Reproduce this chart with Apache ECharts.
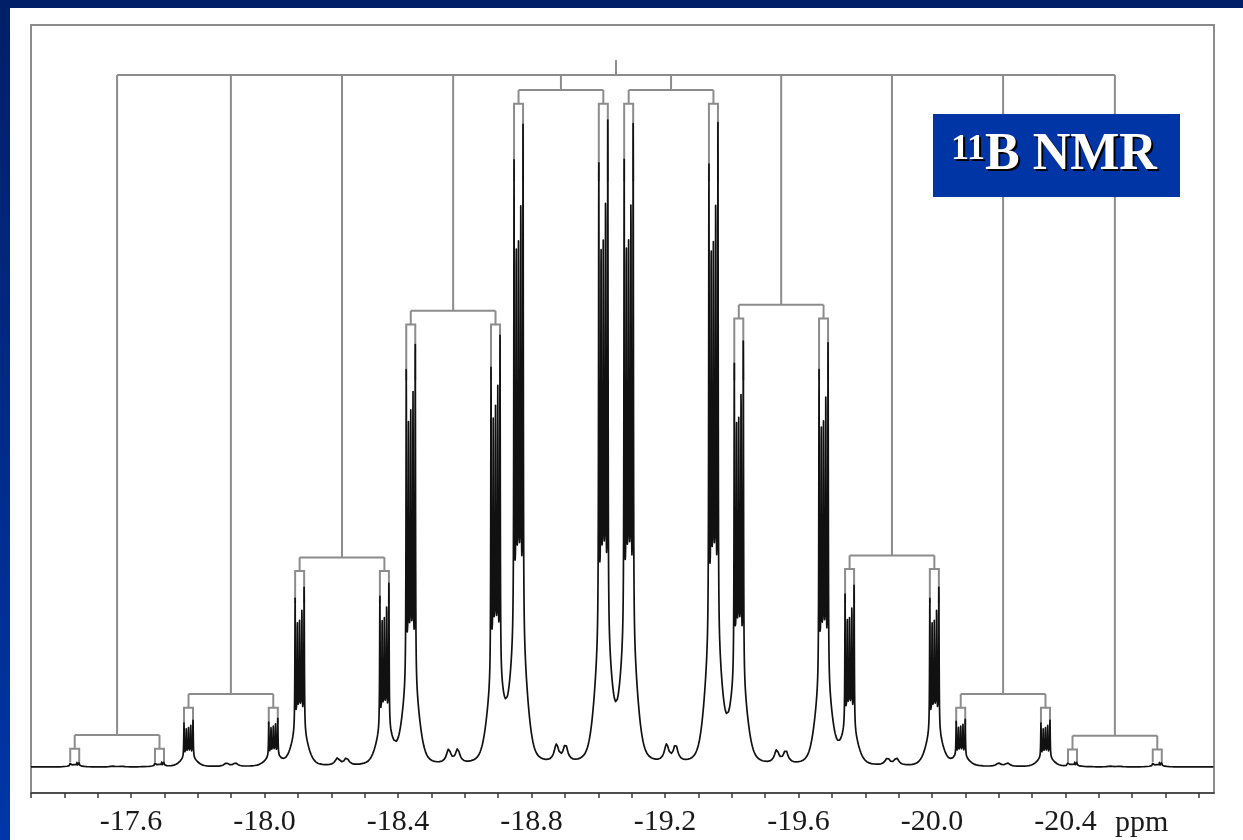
<!DOCTYPE html>
<html>
<head>
<meta charset="utf-8">
<title>11B NMR</title>
<script src="https://cdn.jsdelivr.net/npm/echarts@6.0.0/dist/echarts.min.js"></script>
<style>
  html, body { margin: 0; padding: 0; }
  body { width: 1243px; height: 840px; position: relative; overflow: hidden;
         background: linear-gradient(to bottom, #001f68, #0036a8); }
  #nmr { position: absolute; left: 10px; top: 8px; width: 1233px; height: 832px; background: #fff; }
</style>
</head>
<body>
<div id="nmr"></div>
<script>
// centre shift of each of the ten lines of the multiplet (ppm)
var groupShifts = [-17.558, -17.899, -18.232, -18.565, -18.888, -19.218, -19.548, -19.880, -20.213, -20.548];
// height of the tallest spike in each line (central lines = 100)
var groupHeights = [0.8, 7.3, 28, 66, 100, 100, 66, 28, 7.3, 0.8];
// each line is a doublet, halves at centre +/- doubletHalf (ppm)
var doubletHalf = 0.127;
// fine structure of each doublet half: offsets (ppm, left to right) and relative heights
var fineOffsets = [0.0135, 0.00675, 0, -0.00675, -0.0135];
var fineHeights = [0.72, 0.54, 0.55, 0.61, 0.78];
// small humps in the middle of each doublet
var bumpHeights = [0.1, 0.5, 1.1, 2.1, 2.6, 2.6, 2.0, 1.1, 0.5, 0.1];
var bumpHalf = 0.0135;

// splitting tree levels (same units as the peaks)
var treeTop = 106.3;
var treeStubTop = 108.6;
var treeCentre = -19.053;
var subLevels = [4.9, 11.2, 32.2, 70.1, 104.0, 104.0, 71.0, 32.5, 11.2, 4.8];
var boxHalf = 0.0135;
var boxDrop = 2.1;

// axis
var tickValues = [-17.3, -17.4, -17.5, -17.6, -17.7, -17.8, -17.9, -18.0, -18.1, -18.2, -18.3, -18.4,
  -18.5, -18.6, -18.7, -18.8, -18.9, -19.0, -19.1, -19.2, -19.3, -19.4, -19.5, -19.6, -19.7, -19.8,
  -19.9, -20.0, -20.1, -20.2, -20.3, -20.4, -20.5, -20.6, -20.7, -20.8];
var tickLabels = [-17.6, -18.0, -18.4, -18.8, -19.2, -19.6, -20.0, -20.4];

// line shape
var fineWidth = 0.0009;
var baseSigma = 0.0195, baseHeight = 0.18;
var tailWidth = 0.024, tailHeight = 0.07;
var bumpWidth = 0.008;

function intensity(d) {
  var y = 0;
  for (var g = 0; g < groupShifts.length; g++) {
    var c = groupShifts[g], h = groupHeights[g];
    if (Math.abs(d - c) > 0.6) continue;
    var halves = [c + doubletHalf, c - doubletHalf];
    for (var j = 0; j < 2; j++) {
      var dx = d - halves[j];
      y += h * baseHeight * Math.exp(-dx * dx / (2 * baseSigma * baseSigma));
      y += h * tailHeight / (1 + (dx / tailWidth) * (dx / tailWidth));
      for (var k = 0; k < fineOffsets.length; k++) {
        var e = (dx - fineOffsets[k]) / fineWidth;
        y += h * fineHeights[k] / (1 + e * e);
      }
    }
    for (var s = -1; s <= 1; s += 2) {
      var b = (d - c - s * bumpHalf) / bumpWidth;
      y += bumpHeights[g] / (1 + b * b);
    }
  }
  return y;
}

var spectrum = [];
for (var d = -17.3; d >= -20.845; d -= 0.0004) {
  spectrum.push([d, intensity(d)]);
}

// splitting tree
var tree = [];
tree.push({ coords: [[groupShifts[0], treeTop], [groupShifts[9], treeTop]] });
tree.push({ coords: [[treeCentre, treeTop], [treeCentre, treeStubTop]] });
groupShifts.forEach(function (c, g) {
  var lv = subLevels[g];
  var l = c + doubletHalf, r = c - doubletHalf;
  tree.push({ coords: [[c, treeTop], [c, lv]] });
  tree.push({ coords: [[l, lv], [r, lv]] });
  [l, r].forEach(function (m) {
    var top = lv - boxDrop;
    var bottom = groupHeights[g] * 0.9;
    tree.push({ coords: [[m, lv], [m, top]] });
    tree.push({ coords: [[m + boxHalf, bottom], [m + boxHalf, top], [m - boxHalf, top], [m - boxHalf, bottom]] });
  });
});

var titleFont = 'bold 52px "Liberation Serif"';
var supFont = 'bold 36px "Liberation Serif"';

var chart = echarts.init(document.getElementById('nmr'));
chart.setOption({
  animation: false,
  backgroundColor: '#fff',
  grid: { left: 21, right: 29, top: 17, bottom: 47, show: true, borderColor: '#8c8c8c', borderWidth: 2 },
  xAxis: {
    type: 'value', inverse: true, min: -20.845, max: -17.3,
    splitLine: { show: false },
    axisLine: { onZero: false, lineStyle: { color: '#3a3a3a', width: 1.5 } },
    axisTick: { customValues: tickValues, length: 5, lineStyle: { color: '#3a3a3a', width: 1.5 } },
    axisLabel: {
      customValues: tickLabels, margin: 14,
      color: '#1a1a1a', fontFamily: 'Liberation Serif', fontSize: 30,
      formatter: function (v) { return v.toFixed(1); }
    }
  },
  yAxis: { type: 'value', min: -4, max: 114, show: false },
  series: [
    {
      type: 'lines', coordinateSystem: 'cartesian2d', polyline: true, silent: true, z: 1,
      lineStyle: { color: '#8c8c8c', width: 2, opacity: 1 },
      data: tree
    },
    {
      type: 'line', data: spectrum, showSymbol: false, symbol: 'none', sampling: null,
      silent: true, z: 2,
      lineStyle: { color: '#111', width: 1.7, join: 'round' }
    }
  ],
  graphic: [
    { type: 'rect', shape: { x: 923, y: 106, width: 247, height: 83 }, style: { fill: '#0035a6' }, z: 10 },
    { type: 'text', x: 943, y: 126, z: 11,
      style: { text: '11', fill: '#000', font: supFont, verticalAlign: 'top' } },
    { type: 'text', x: 941, y: 124, z: 12,
      style: { text: '11', fill: '#fff', font: supFont, verticalAlign: 'top' } },
    { type: 'text', x: 977, y: 124, z: 11,
      style: { text: 'B NMR', fill: '#000', font: titleFont, verticalAlign: 'top' } },
    { type: 'text', x: 975, y: 122, z: 12,
      style: { text: 'B NMR', fill: '#fff', font: titleFont, verticalAlign: 'top' } },
    { type: 'text', x: 1105, y: 800, z: 11,
      style: { text: 'ppm', fill: '#1a1a1a', font: '30px "Liberation Serif"', verticalAlign: 'top' } }
  ]
});
</script>
</body>
</html>
